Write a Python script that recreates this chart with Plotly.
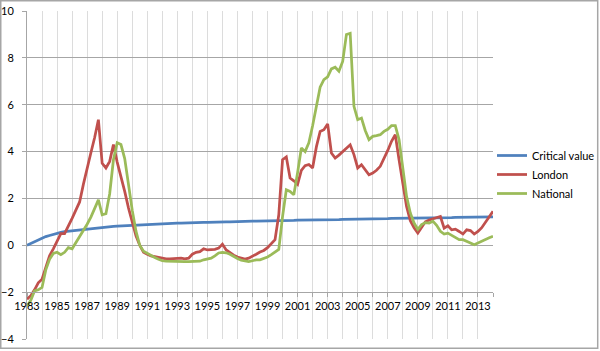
import plotly.graph_objects as go

start_year = 1983
n_quarters = 125

critical_value = [
    0.0, 0.08, 0.16, 0.23, 0.3, 0.37, 0.42, 0.47, 0.52, 0.55,
    0.58, 0.6, 0.62, 0.64, 0.66, 0.68, 0.7, 0.72, 0.74, 0.76,
    0.78, 0.79, 0.8, 0.81, 0.82, 0.83, 0.84, 0.85, 0.86, 0.87,
    0.88, 0.89, 0.9, 0.9, 0.91, 0.92, 0.92, 0.93, 0.94, 0.94,
    0.95, 0.95, 0.96, 0.96, 0.97, 0.97, 0.97, 0.98, 0.98, 0.99,
    0.99, 0.99, 1.0, 1.0, 1.0, 1.01, 1.01, 1.02, 1.02, 1.02,
    1.03, 1.03, 1.03, 1.04, 1.04, 1.04, 1.05, 1.05, 1.05, 1.06,
    1.06, 1.06, 1.07, 1.07, 1.07, 1.08, 1.08, 1.08, 1.09, 1.09,
    1.09, 1.1, 1.1, 1.1, 1.11, 1.11, 1.11, 1.12, 1.12, 1.12,
    1.13, 1.13, 1.13, 1.14, 1.14, 1.14, 1.14, 1.15, 1.15, 1.15,
    1.15, 1.16, 1.16, 1.16, 1.16, 1.17, 1.17, 1.17, 1.17, 1.18,
    1.18, 1.18, 1.18, 1.18, 1.19, 1.19, 1.19, 1.19, 1.19, 1.2,
    1.2, 1.2, 1.2, 1.2, 1.21,
]

london = [
    -2.3, -2.15, -1.9, -1.6, -1.45, -0.9, -0.45, -0.15, 0.2, 0.5,
    0.5, 0.8, 1.15, 1.5, 1.85, 2.6, 3.35, 3.95, 4.6, 5.36,
    3.5, 3.3, 3.58, 4.3, 3.55, 2.95, 2.3, 1.6, 0.95, 0.4,
    0.0, -0.3, -0.38, -0.45, -0.48, -0.52, -0.55, -0.58, -0.58, -0.57,
    -0.57, -0.55, -0.58, -0.55, -0.38, -0.3, -0.27, -0.15, -0.2, -0.2,
    -0.17, -0.12, 0.05, -0.2, -0.33, -0.42, -0.5, -0.55, -0.59, -0.55,
    -0.45, -0.38, -0.29, -0.22, -0.1, 0.05, 0.24, 1.3, 3.65, 3.77,
    2.87, 2.75, 2.6, 3.2, 3.4, 3.45, 3.3, 4.2, 4.86, 4.93,
    5.18, 3.94, 3.72, 3.85, 4.0, 4.15, 4.29, 3.87, 3.3, 3.44,
    3.23, 3.01, 3.08, 3.2, 3.37, 3.7, 4.05, 4.44, 4.72, 3.65,
    2.66, 1.66, 1.05, 0.75, 0.52, 0.78, 1.0, 1.08, 1.13, 1.18,
    1.23, 0.73, 0.83, 0.66, 0.69, 0.59, 0.48, 0.66, 0.63, 0.48,
    0.59, 0.75, 0.98, 1.2, 1.45,
]

national = [
    -2.6, -2.35, -1.95, -1.9, -1.8, -1.05, -0.6, -0.35, -0.3, -0.4,
    -0.3, -0.1, -0.15, 0.1, 0.35, 0.6, 0.9, 1.2, 1.55, 1.94,
    1.3, 1.35, 2.2, 3.65, 4.38, 4.3, 3.7, 2.55, 1.5, 0.6,
    0.0, -0.25, -0.35, -0.45, -0.52, -0.6, -0.66, -0.68, -0.69, -0.7,
    -0.7, -0.7, -0.7, -0.7, -0.69, -0.69, -0.68, -0.62, -0.6, -0.55,
    -0.45, -0.33, -0.3, -0.32, -0.38, -0.48, -0.56, -0.64, -0.68, -0.7,
    -0.66, -0.62, -0.62, -0.57, -0.5, -0.4, -0.27, -0.18, 1.23, 2.37,
    2.3, 2.16, 3.1, 4.15, 4.0, 4.37, 5.1, 5.9, 6.75, 7.07,
    7.19, 7.53, 7.6, 7.43, 7.85, 9.0, 9.05, 5.93, 5.36, 5.43,
    4.9, 4.51, 4.65, 4.68, 4.72, 4.86, 4.95, 5.11, 5.11, 4.51,
    3.23, 2.09, 1.38, 0.95, 0.68, 0.88, 0.97, 0.95, 1.03, 0.85,
    0.6, 0.48, 0.52, 0.42, 0.32, 0.24, 0.24, 0.18, 0.1, 0.02,
    0.1, 0.18, 0.25, 0.32, 0.38,
]

tick_years = list(range(1983, 2015))
tick_labels = [str(y) if (y - 1983) % 2 == 0 and y <= 2013 else "" for y in tick_years]
y_ticks = [-4, -2, 0, 2, 4, 6, 8, 10]

x = [start_year + i / 4 for i in range(n_quarters)]

series = [
    ("Critical value", critical_value, "#4F81BD"),
    ("London", london, "#C0504D"),
    ("National", national, "#9BBB59"),
]

fig = go.Figure()
for name, vals, color in series:
    fig.add_trace(go.Scatter(x=x, y=vals, mode="lines", name=name,
                             line=dict(color=color, width=2.75)))

FONT = "Lato, 'Liberation Sans', Arial, sans-serif"
TXT = "#000000"
L, R, T, B = 27, 107, 11, 12
W, H = 600, 351
pw, ph = W - L - R, H - T - B

fig.update_layout(
    width=W, height=H,
    margin=dict(l=L, r=R, t=T, b=B, pad=0, autoexpand=False),
    paper_bgcolor="white", plot_bgcolor="white",
    font=dict(family=FONT, size=11, color=TXT),
    showlegend=True,
    legend=dict(x=(492 - L) / pw, xanchor="left", y=(H - B - 141) / ph, yanchor="top",
                font=dict(family=FONT, size=11, color=TXT),
                bgcolor="rgba(0,0,0,0)", tracegroupgap=0),
    xaxis=dict(range=[1983, 2014], tickmode="array", tickvals=tick_years, ticktext=tick_labels,
               showgrid=True, gridcolor="#dcdcdc", gridwidth=1,
               anchor="free", position=2 / 14,
               showline=True, linecolor="#a6a6a6", linewidth=1,
               ticks="outside", ticklen=4, tickcolor="#a6a6a6",
               tickfont=dict(family=FONT, size=11, color=TXT),
               zeroline=False),
    yaxis=dict(range=[-4, 10], tickmode="array", tickvals=y_ticks,
               showgrid=True, gridcolor="#a6a6a6", gridwidth=1,
               showline=True, linecolor="#a6a6a6", linewidth=1,
               ticks="outside", ticklen=4, tickcolor="#a6a6a6",
               ticklabelstandoff=6,
               tickfont=dict(family=FONT, size=11, color=TXT),
               zeroline=False),
    shapes=[dict(type="rect", xref="paper", yref="paper",
                 x0=(0.75 - L) / pw, x1=(597.7 - L) / pw,
                 y0=(H - B - 348.3) / ph, y1=(H - B - 0.75) / ph,
                 line=dict(color="#a6a6a6", width=1.5), layer="below")],
)

fig.write_html("out.html")
